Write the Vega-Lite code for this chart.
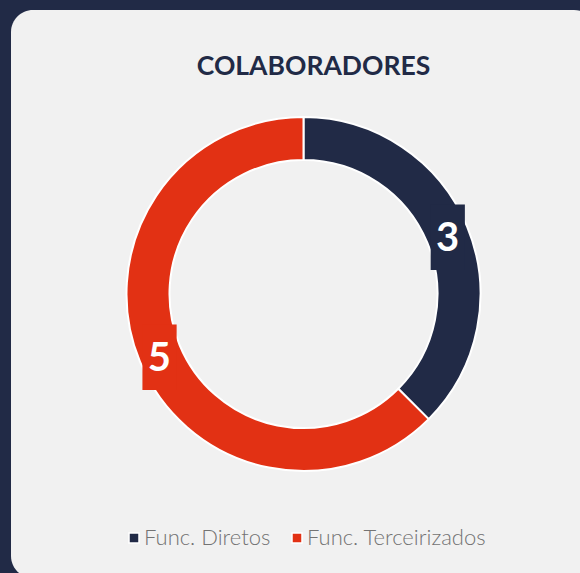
{
  "$schema": "https://vega.github.io/schema/vega-lite/v6.json",
  "autosize": {"type": "fit", "contains": "padding"},
  "width": 580,
  "height": 573,
  "padding": {"left": 11, "top": 10, "right": -16, "bottom": -5},
  "background": "#212a46",
  "view": {"fill": "#f1f1f1", "stroke": null, "cornerRadius": 22},
  "title": {
    "text": "COLABORADORES",
    "font": "Lato",
    "fontSize": 26.5,
    "fontWeight": "bold",
    "color": "#212a46",
    "anchor": "middle",
    "frame": "group",
    "orient": "top",
    "offset": -70,
    "dx": 10
  },
  "data": {
    "values": [
      {"categoria": "Func. Diretos", "valor": 3},
      {"categoria": "Func. Terceirizados", "valor": 5}
    ]
  },
  "encoding": {
    "theta": {"field": "valor", "type": "quantitative", "stack": true},
    "color": {
      "field": "categoria",
      "type": "nominal",
      "scale": {"domain": ["Func. Diretos", "Func. Terceirizados"], "range": ["#212a46", "#e23114"]},
      "legend": {
        "title": null,
        "orient": "none",
        "direction": "horizontal",
        "legendX": 112,
        "legendY": 517,
        "symbolType": "square",
        "symbolSize": 100,
        "symbolStrokeColor": "white",
        "symbolStrokeWidth": 1.5,
        "labelFont": "Lato",
        "labelFontSize": 22,
        "labelFontWeight": 300,
        "labelColor": "#737373",
        "labelOffset": -1,
        "columnPadding": 15,
        "labelLimit": 300
      }
    }
  },
  "layer": [
    {
      "mark": {"type": "arc", "outerRadius": 177, "innerRadius": 134, "stroke": "white", "strokeWidth": 2}
    },
    {
      "mark": {"type": "text", "radius": 156, "text": "█", "font": "DejaVu Sans Mono", "fontSize": 55, "align": "center", "baseline": "middle", "dy": 5}
    },
    {
      "mark": {"type": "text", "radius": 156, "font": "Lato", "fontSize": 40, "fontWeight": "bold", "fill": "white", "align": "center", "baseline": "middle", "dy": 5},
      "encoding": {
        "text": {"field": "valor", "type": "quantitative"},
        "color": {"value": "white"}
      }
    }
  ]
}
